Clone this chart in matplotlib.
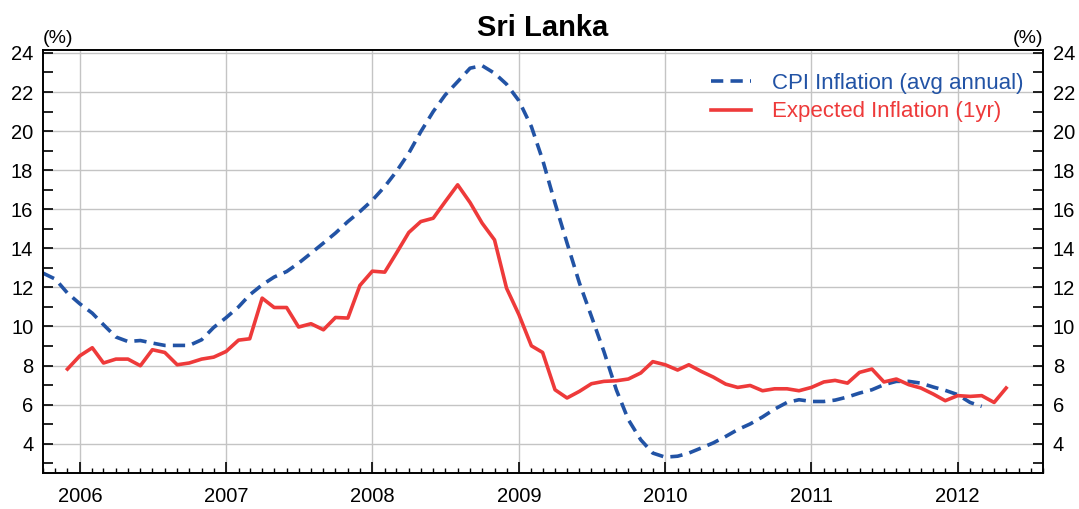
import pandas as pd
import matplotlib
matplotlib.use("Agg")
import matplotlib.pyplot as plt
import matplotlib.dates as mdates
from matplotlib.ticker import MultipleLocator

plt.rcParams["font.family"] = ["Liberation Sans", "DejaVu Sans"]

# monthly data
cpi_start = "2005-10-01"
cpi = [12.73, 12.42, 11.71,
       11.16, 10.68, 10.09, 9.46, 9.23, 9.28, 9.15, 9.03, 9.03, 9.03, 9.32, 9.95,
       10.45, 11.0, 11.62, 12.13, 12.53, 12.81, 13.24, 13.75, 14.27, 14.78, 15.37, 15.88,
       16.46, 17.16, 17.93, 18.87, 19.97, 21.0, 21.85, 22.53, 23.22, 23.35, 22.96, 22.4,
       21.55, 20.23, 18.53, 16.31, 14.27, 12.22, 10.51, 8.72, 6.76, 5.23, 4.20, 3.52,
       3.31, 3.36, 3.52, 3.78, 4.04, 4.37, 4.72, 5.01, 5.37, 5.77, 6.11, 6.25,
       6.16, 6.16, 6.23, 6.39, 6.59, 6.76, 7.02, 7.19, 7.19, 7.10, 6.90, 6.73,
       6.51, 6.11, 5.91]

exp_start = "2005-12-01"
expected = [7.82,
            8.5, 8.91, 8.13, 8.33, 8.33, 7.99, 8.81, 8.67, 8.04, 8.13, 8.33, 8.43,
            8.72, 9.3, 9.37, 11.45, 10.97, 10.97, 9.97, 10.14, 9.83, 10.46, 10.43, 12.1,
            12.83, 12.78, 13.75, 14.81, 15.37, 15.54, 16.39, 17.25, 16.34, 15.29, 14.43, 11.96,
            10.6, 9.01, 8.67, 6.76, 6.34, 6.68, 7.07, 7.19, 7.22, 7.31, 7.62, 8.2,
            8.04, 7.77, 8.04, 7.70, 7.41, 7.05, 6.88, 6.98, 6.71, 6.81, 6.81, 6.71,
            6.88, 7.16, 7.24, 7.10, 7.65, 7.82, 7.16, 7.31, 7.02, 6.85, 6.54, 6.20,
            6.46, 6.42, 6.46, 6.11, 6.85]

labels = ["CPI Inflation (avg annual)", "Expected Inflation (1yr)"]
BLUE = "#2253a5"
RED = "#ee3a3a"

cpi_dates = pd.date_range(cpi_start, periods=len(cpi), freq="MS")
exp_dates = pd.date_range(exp_start, periods=len(expected), freq="MS")

fig = plt.figure(figsize=(10.79, 5.09), dpi=100)
ax = fig.add_axes([43 / 1079, 1 - 473 / 509, 1000 / 1079, 423 / 509])

ax.plot(cpi_dates, cpi, color=BLUE, lw=2.6, dashes=(3.4, 2.0), label=labels[0])
ax.plot(exp_dates, expected, color=RED, lw=2.6, label=labels[1])

ax.set_xlim(pd.Timestamp("2005-10-01"), pd.Timestamp("2012-08-01"))
ax.set_ylim(2.5, 24.15)

ax.yaxis.set_minor_locator(MultipleLocator(1))
ax.set_yticks(range(4, 25, 2))
ax.xaxis.set_major_locator(mdates.YearLocator())
ax.xaxis.set_major_formatter(mdates.DateFormatter("%Y"))
ax.xaxis.set_minor_locator(mdates.MonthLocator())

ax.tick_params(axis="y", which="both", direction="in", length=7, width=1.2,
               left=True, right=True, labelleft=True, labelright=True,
               labelsize=14.5, pad=7)
ax.tick_params(axis="x", which="major", direction="in", length=8, width=1.2,
               labelsize=14.5, pad=10)
ax.tick_params(axis="x", which="minor", direction="in", length=3.5, width=1.0)

ax.grid(True, which="major", color="#c4c4c4", lw=1.0)
ax.set_axisbelow(True)
for s in ax.spines.values():
    s.set_linewidth(1.4)

ax.set_title("Sri Lanka", fontsize=21, fontweight="bold", pad=10)
ax.text(0, 1.006, "(%)", transform=ax.transAxes, ha="left", va="bottom", fontsize=14)
ax.text(1, 1.006, "(%)", transform=ax.transAxes, ha="right", va="bottom", fontsize=14)

ax.legend(loc="upper right", bbox_to_anchor=(0.992, 0.972), frameon=False,
          fontsize=16, handlelength=1.8, handletextpad=0.95, labelspacing=0.33,
          borderpad=0, labelcolor="linecolor")

fig.savefig("out.png", dpi=100)
